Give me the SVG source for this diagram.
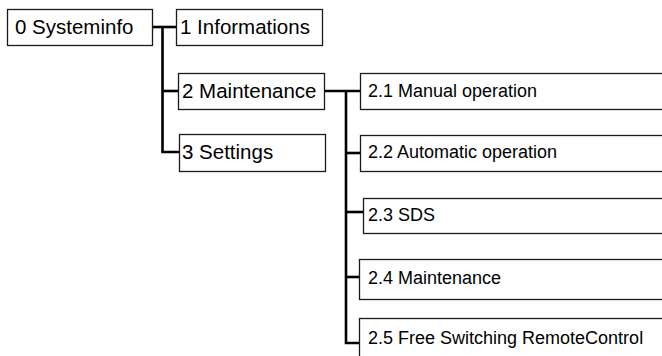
<svg xmlns="http://www.w3.org/2000/svg" width="662" height="356" viewBox="0 0 662 356">
  <style>
    .box { fill: #ffffff; stroke: #1a1a1a; stroke-width: 1.3; }
    .lbl { font-family: "Liberation Sans", Arial, Helvetica, sans-serif; fill: #000000; }
    .big { font-size: 20.5px; }
    .small { font-size: 18px; }
    .wire { fill: none; stroke: #000000; stroke-width: 2.6; stroke-linejoin: miter; }
  </style>
  <rect width="662" height="356" fill="#ffffff"/>

  <!-- tree connectors -->
  <g id="connectors">
    <path class="wire" d="M152,27 H176"/>
    <path class="wire" d="M162.5,27 V152 H179"/>
    <path class="wire" d="M162.5,91 H178"/>
    <path class="wire" d="M325,91 H360"/>
    <path class="wire" d="M346,91 V343 H359"/>
    <path class="wire" d="M346,153 H360"/>
    <path class="wire" d="M346,212 H363"/>
    <path class="wire" d="M346,277 H359"/>
  </g>

  <g id="n0">
    <rect class="box" x="7.5" y="9.5" width="145" height="36"/>
    <text class="lbl big" x="15" y="34">0 Systeminfo</text>
  </g>
  <g id="n1">
    <rect class="box" x="176.5" y="9.5" width="146" height="36"/>
    <text class="lbl big" x="180" y="34">1 Informations</text>
  </g>
  <g id="n2">
    <rect class="box" x="178.5" y="73.5" width="146" height="36"/>
    <text class="lbl big" x="182" y="98">2 Maintenance</text>
  </g>
  <g id="n3">
    <rect class="box" x="179.5" y="134.5" width="146" height="37"/>
    <text class="lbl big" x="182" y="159">3 Settings</text>
  </g>

  <g id="n21">
    <rect class="box" x="360.5" y="73.5" width="400" height="36"/>
    <text class="lbl small" x="368" y="97">2.1 Manual operation</text>
  </g>
  <g id="n22">
    <rect class="box" x="360.5" y="135.5" width="400" height="36"/>
    <text class="lbl small" x="368" y="158">2.2 Automatic operation</text>
  </g>
  <g id="n23">
    <rect class="box" x="363.5" y="198.5" width="400" height="35"/>
    <text class="lbl small" x="368" y="221">2.3 SDS</text>
  </g>
  <g id="n24">
    <rect class="box" x="359.5" y="259.5" width="400" height="40"/>
    <text class="lbl small" x="368" y="284">2.4 Maintenance</text>
  </g>
  <g id="n25">
    <rect class="box" x="359.5" y="318.5" width="400" height="60"/>
    <text class="lbl small" x="368" y="344">2.5 Free Switching RemoteControl</text>
  </g>
</svg>
